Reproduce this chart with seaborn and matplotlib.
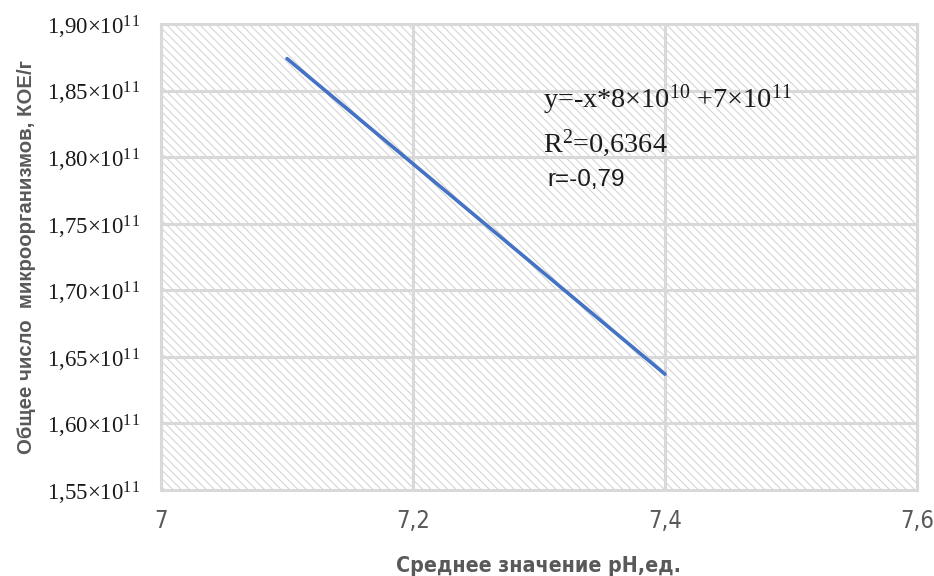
import matplotlib
matplotlib.use("Agg")
import matplotlib.pyplot as plt
import seaborn as sns
import pandas as pd
from matplotlib.patches import Rectangle
from matplotlib.ticker import FixedLocator, FixedFormatter

# ---- data ----
ph_values = [7.1, 7.4]
cfu_values = [1.874e11, 1.637e11]
x_ticks = [7.0, 7.2, 7.4, 7.6]
x_tick_labels = ["7", "7,2", "7,4", "7,6"]
y_ticks = [1.55e11, 1.60e11, 1.65e11, 1.70e11, 1.75e11, 1.80e11, 1.85e11, 1.90e11]
y_tick_mant = ["1,55", "1,60", "1,65", "1,70", "1,75", "1,80", "1,85", "1,90"]
x_title = "Среднее значение pH,ед."
y_title = "Общее число  микроорганизмов, КОЕ/г"
eq_text = r"y=-x*8$\times$10$^{10}$ +7$\times$10$^{11}$"
r2_text = r"R$^{2}$=0,6364"
r_text = "r=-0,79"

sns.set_theme(style="white")
plt.rcParams["mathtext.fontset"] = "custom"
plt.rcParams["mathtext.rm"] = "Liberation Serif"
plt.rcParams["mathtext.it"] = "Liberation Serif:italic"
plt.rcParams["mathtext.default"] = "rm"
plt.rcParams["hatch.linewidth"] = 0.7

df = pd.DataFrame({"pH": ph_values, "cfu": cfu_values})

fig = plt.figure(figsize=(9.34, 5.76), dpi=100)
ax = fig.add_axes([161 / 934, 1 - 490 / 576, (917 - 161) / 934, (490 - 24) / 576])
ax.set_facecolor("white")

# hatched background
ax.add_patch(Rectangle((0, 0), 1, 1, transform=ax.transAxes, fill=False,
                       hatch="\\" * 4, edgecolor="#d0d0d0", lw=0, zorder=0))

ax.set_xlim(7.0, 7.6)
ax.set_ylim(1.55e11, 1.90e11)
ax.xaxis.set_major_locator(FixedLocator(x_ticks))
ax.xaxis.set_major_formatter(FixedFormatter(x_tick_labels))
ax.yaxis.set_major_locator(FixedLocator(y_ticks))
ax.yaxis.set_major_formatter(FixedFormatter(
    [m + r"$\times$10$^{11}$" for m in y_tick_mant]))

ax.grid(True, color="#d9d9d9", linewidth=2.2, zorder=1)
ax.set_axisbelow(False)
for line in ax.get_xgridlines() + ax.get_ygridlines():
    line.set_zorder(1)
for s in ax.spines.values():
    s.set_color("#d9d9d9")
    s.set_linewidth(2.2)

sns.lineplot(data=df, x="pH", y="cfu", ax=ax, color="#4472C4", linewidth=2.6, zorder=3)

ax.tick_params(axis="y", length=0, pad=15)
ax.tick_params(axis="x", length=0, pad=14)
for lab in ax.get_yticklabels():
    lab.set_family("Liberation Serif")
    lab.set_fontsize(16.5)
    lab.set_color("#1a1a1a")
for lab in ax.get_xticklabels():
    lab.set_family("DejaVu Sans")
    lab.set_stretch("condensed")
    lab.set_fontsize(17)
    lab.set_color("#595959")

ax.set_xlabel(x_title, family="DejaVu Sans", stretch="condensed", fontsize=15.3,
              fontweight="bold", color="#595959", labelpad=16)
ax.set_ylabel(y_title, family=["Liberation Sans", "DejaVu Sans"], fontsize=14.7,
              fontweight="bold", color="#595959", labelpad=8)

ax.text(7.3032, 1.8429e11, eq_text, family="Liberation Serif", fontsize=20.3,
        color="#1a1a1a", va="center", ha="left", zorder=4)
ax.text(7.3032, 1.8106e11, r2_text, family="Liberation Serif", fontsize=20.3,
        color="#1a1a1a", va="center", ha="left", zorder=4)
ax.text(7.307, 1.7828e11, r_text, family="Liberation Sans", fontsize=17.5,
        color="#1a1a1a", va="center", ha="left", zorder=4)

fig.savefig("out.png", dpi=100)
